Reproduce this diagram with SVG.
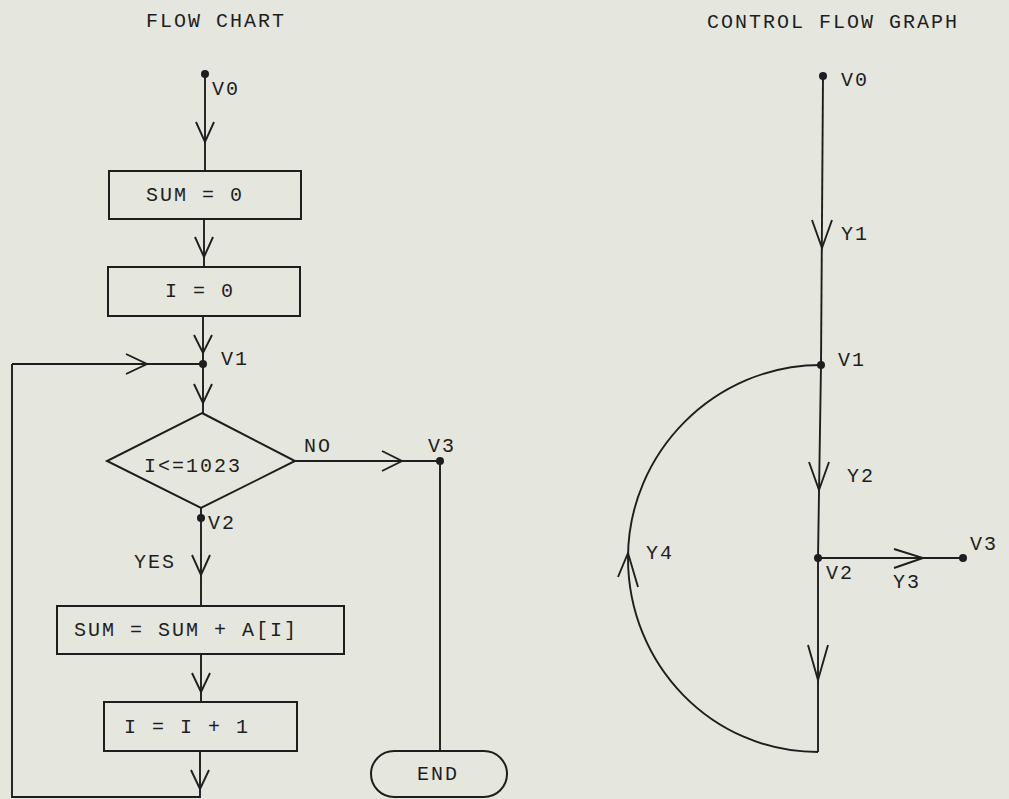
<svg xmlns="http://www.w3.org/2000/svg" width="1009" height="799" viewBox="0 0 1009 799">
<style>
.ln{fill:none;stroke:#1e1e1e;stroke-width:1.9;stroke-linejoin:miter;stroke-linecap:butt}
.box{fill:none;stroke:#1e1e1e;stroke-width:2}
.dot{fill:#1e1e1e}
text{font-family:"Liberation Mono","DejaVu Sans Mono",monospace;font-size:20px;letter-spacing:2px;fill:#1e1e1e}
</style>
<rect x="0" y="0" width="1009" height="799" fill="#e5e6dd"/>
<g id="titles">
<text x="146" y="27">FLOW CHART</text>
<text x="707" y="28">CONTROL FLOW GRAPH</text>
</g>
<g id="connectors">
<polyline class="ln" points="205,74 205,171"/>
<polyline class="ln" points="196,122 205,142 214,122"/>
<polyline class="ln" points="204,219 204,267"/>
<polyline class="ln" points="195,237 204,257 213,237"/>
<polyline class="ln" points="203,316 203,413"/>
<polyline class="ln" points="194,335 203,353 212,335"/>
<polyline class="ln" points="194,384 203,403 212,384"/>
<polyline class="ln" points="12,364 203,364"/>
<polyline class="ln" points="126,354 147,364 126,374"/>
<polyline class="ln" points="295,461 440,461 440,751"/>
<polyline class="ln" points="382,451 402,461 382,471"/>
<polyline class="ln" points="201,508 201,606"/>
<polyline class="ln" points="192,555 201,575 210,555"/>
<polyline class="ln" points="201,654 201,702"/>
<polyline class="ln" points="192,673 201,692 210,673"/>
<polyline class="ln" points="200,751 200,797 12,797 12,364"/>
<polyline class="ln" points="191,770 200,789 209,770"/>
<polyline class="ln" points="823,76 821,365"/>
<polyline class="ln" points="812,220 822,248 832,220"/>
<polyline class="ln" points="821,365 818,558"/>
<polyline class="ln" points="809,462 819,490 829,462"/>
<polyline class="ln" points="818,558 963,558"/>
<polyline class="ln" points="894,549 923,558 894,568"/>
<polyline class="ln" points="818,558 818,752"/>
<polyline class="ln" points="808,645 818,680 828,645"/>
<path class="ln" d="M821,365 C714,365 628,453 628,558 C628,665 712,752 818,752"/>
<polyline class="ln" points="618,577 628,553 638,587"/>
</g>
<g id="fc-v0"><circle class="dot" cx="205" cy="74" r="4"/><text x="212" y="95">V0</text></g>
<g id="fc-sum0"><rect class="box" x="109" y="171" width="192" height="48"/><text x="146" y="201">SUM = 0</text></g>
<g id="fc-i0"><rect class="box" x="108" y="267" width="192" height="49"/><text x="165" y="297">I = 0</text></g>
<g id="fc-v1"><circle class="dot" cx="203" cy="364" r="4"/><text x="221" y="365">V1</text></g>
<g id="fc-cond"><polygon class="box" points="202,413 295,461 201,508 107,461"/><text x="144" y="472">I&lt;=1023</text><text x="304" y="452">NO</text></g>
<g id="fc-v3"><circle class="dot" cx="440" cy="461" r="4"/><text x="428" y="452">V3</text></g>
<g id="fc-v2"><circle class="dot" cx="201" cy="518" r="4"/><text x="208" y="529">V2</text><text x="134" y="568">YES</text></g>
<g id="fc-sumadd"><rect class="box" x="57" y="606" width="287" height="48"/><text x="74" y="636">SUM = SUM + A[I]</text></g>
<g id="fc-inc"><rect class="box" x="104" y="702" width="193" height="49"/><text x="124" y="733">I = I + 1</text></g>
<g id="fc-end"><rect class="box" x="371" y="751" width="136" height="46" rx="23" ry="23"/><text x="417" y="780">END</text></g>
<g id="cfg-v0"><circle class="dot" cx="823" cy="76" r="4"/><text x="841" y="86">V0</text></g>
<g id="cfg-y1"><text x="841" y="240">Y1</text></g>
<g id="cfg-v1"><circle class="dot" cx="821" cy="365" r="4"/><text x="838" y="366">V1</text></g>
<g id="cfg-y2"><text x="847" y="482">Y2</text></g>
<g id="cfg-v2"><circle class="dot" cx="818" cy="558" r="4"/><text x="826" y="579">V2</text></g>
<g id="cfg-y3"><text x="893" y="588">Y3</text></g>
<g id="cfg-v3"><circle class="dot" cx="963" cy="558" r="4"/><text x="970" y="550">V3</text></g>
<g id="cfg-y4"><text x="646" y="559">Y4</text></g>
</svg>
